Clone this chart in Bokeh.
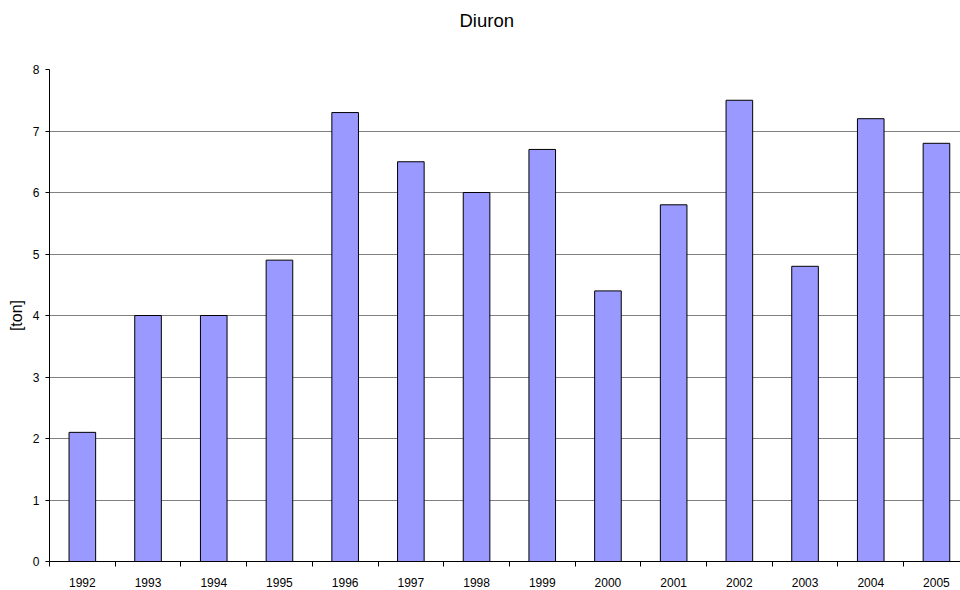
from bokeh.plotting import figure
from bokeh.models import Range1d, FixedTicker
from bokeh.embed import file_html
from bokeh.resources import INLINE

# Yearly Diuron amounts in tonnes
years = ["1992", "1993", "1994", "1995", "1996", "1997", "1998",
         "1999", "2000", "2001", "2002", "2003", "2004", "2005"]
tons = [2.1, 4.0, 4.0, 4.9, 7.3, 6.5, 6.0, 6.7, 4.4, 5.8, 7.5, 4.8, 7.2, 6.8]
y_ticks = [0, 1, 2, 3, 4, 5, 6, 7, 8]

FONT = "Liberation Sans"
xs = list(range(len(years)))

p = figure(width=960, height=590, output_backend="svg", toolbar_location=None,
           x_range=Range1d(-0.5, 13.366), y_range=Range1d(0, 8),
           min_border_left=49, min_border_right=0, min_border_top=69,
           min_border_bottom=29)
p.outline_line_color = None
p.background_fill_color = "white"
p.border_fill_color = "white"

# title sits high above the plot area, lifted by bottom padding
p.title.text = "Diuron"
p.title.align = "left"
p.title.vertical_align = "bottom"
p.title.offset = 410
p.title.standoff = 0
p.title.padding = dict(top=0, bottom=39, left=0, right=0)
p.title.text_font = FONT
p.title.text_font_size = "18.5px"
p.title.text_font_style = "normal"
p.title.text_color = "black"

p.vbar(x=xs, top=tons, width=0.405, fill_color="#9999FF",
       line_color="black", line_width=1)

# category axis: ticks on the boundaries, year labels centred under bars
xa = p.xaxis[0]
xa.ticker = FixedTicker(ticks=xs, minor_ticks=[i - 0.5 for i in range(len(years) + 1)])
xa.major_label_overrides = {i: y for i, y in enumerate(years)}
xa.major_tick_out = 0
xa.major_tick_in = 0
xa.minor_tick_out = 5
xa.minor_tick_in = 0
xa.minor_tick_line_color = "black"
xa.axis_line_color = "black"
xa.major_label_standoff = 11
xa.major_label_text_font = FONT
xa.major_label_text_font_size = "12px"
xa.major_label_text_color = "black"

ya = p.yaxis[0]
ya.ticker = FixedTicker(ticks=y_ticks)
ya.major_tick_out = 4
ya.major_tick_in = 0
ya.minor_tick_out = 0
ya.minor_tick_in = 0
ya.axis_line_color = "black"
ya.major_tick_line_color = "black"
ya.major_label_standoff = 6
ya.major_label_text_font = FONT
ya.major_label_text_font_size = "12px"
ya.major_label_text_color = "black"
ya.axis_label = "[ton]"
ya.axis_label_standoff = 5
ya.axis_label_text_font = FONT
ya.axis_label_text_font_size = "16px"
ya.axis_label_text_font_style = "normal"
ya.axis_label_text_color = "black"

p.xgrid.grid_line_color = None
p.ygrid.ticker = FixedTicker(ticks=y_ticks)
p.ygrid.grid_line_color = "#808080"
p.ygrid.grid_line_width = 1

open("out.html", "w").write(file_html(p, INLINE))
